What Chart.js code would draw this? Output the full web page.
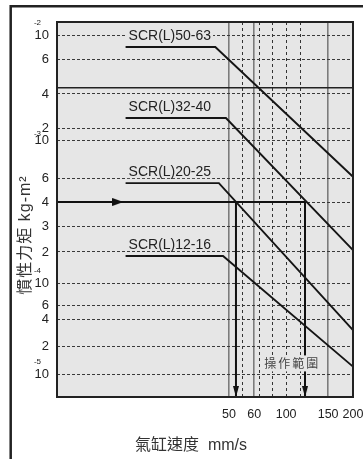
<!DOCTYPE html>
<html>
<head>
<meta charset="utf-8">
<script src="https://cdn.jsdelivr.net/npm/chart.js@4.4.1/dist/chart.umd.min.js"></script>
<style>
  html, body { margin: 0; padding: 0; background: #fff; }
  canvas { display: block; }
</style>
</head>
<body>
<canvas id="grafico" width="363" height="459"></canvas>
<script>
// 系列（氣缸口徑）
var series = ['SCR(L)50-63', 'SCR(L)32-40', 'SCR(L)20-25', 'SCR(L)12-16'];
// 速度 mm/s：起點、轉折、終點
var speedStart = [19, 19, 19, 19];
var speedKnee = [44, 48.6, 45.5, 47.3];
var speedEnd = [200, 200, 200, 200];
// 慣性力矩 kg-m²：水平段、200 mm/s 時
var inertiaFlat = [7.75e-3, 2.45e-3, 5.5e-4, 1.83e-4];
var inertiaEnd = [6.1e-4, 2.06e-4, 3.0e-5, 1.2e-5];

// 例：4×10^-4 kg-m² → 操作範圍
var exampleInertia = 4e-4;
var exampleFrom = 10;
var exampleArrowAt = 18.6;
var exampleRange = [52.6, 120];
var rangeLabelAt = [105, 1.3e-5];
var dividerInertia = 4.3e-3;

// 刻度
var yTicks = [1e-2, 6e-3, 4e-3, 2e-3, 1e-3, 6e-4, 4e-4, 3e-4, 2e-4, 1e-4, 6e-5, 4e-5, 2e-5, 1e-5];
var xLabels = [50, 60, 100, 150, 200];
var xGridSolid = [50, 60, 150];
var xGridDashed = [55, 65, 80, 115];

// O gráfico original é desenhado à mão: cada eixo tem uma escala irregular
// (valor -> fração da área do gráfico, interpolação logarítmica entre os pontos)
var eixos = {
  x: {
    values: [10, 50, 60, 100, 150, 200],
    spots: [0, 0.581, 0.666, 0.774, 0.916, 1],
    ticks: xLabels.concat(xGridDashed).sort(function (a, b) { return a - b; })
  },
  y: {
    values: [7e-6, 1e-5, 2e-5, 4e-5, 6e-5, 1e-4, 2e-4, 3e-4, 4e-4, 6e-4, 1e-3, 2e-3, 4e-3, 6e-3, 1e-2, 1.3e-2],
    spots: [0, 0.0613, 0.136, 0.208, 0.2453, 0.304, 0.3867, 0.456, 0.52, 0.584, 0.6853, 0.7173, 0.808, 0.9013, 0.9653, 1],
    ticks: yTicks
  }
};

class EscalaDesenhada extends Chart.LinearScale {
  determineDataLimits() {
    var e = eixos[this.id];
    this.min = e.values[0];
    this.max = e.values[e.values.length - 1];
  }
  buildTicks() {
    return eixos[this.id].ticks.map(function (v) { return { value: v }; });
  }
  toDecimal(v) {
    var e = eixos[this.id], vs = e.values, sp = e.spots;
    var i = 0;
    while (i < vs.length - 2 && v > vs[i + 1]) i++;
    var t = Math.log(v / vs[i]) / Math.log(vs[i + 1] / vs[i]);
    return sp[i] + t * (sp[i + 1] - sp[i]);
  }
  getPixelForValue(v) {
    if (v === null || v === undefined || !(v > 0)) return NaN;
    return this.getPixelForDecimal(this.toDecimal(v));
  }
  getValueForPixel(p) {
    var e = eixos[this.id], d = this.getDecimalForPixel(p);
    var i = 0;
    while (i < e.spots.length - 2 && d > e.spots[i + 1]) i++;
    var t = (d - e.spots[i]) / (e.spots[i + 1] - e.spots[i]);
    return e.values[i] * Math.pow(e.values[i + 1] / e.values[i], t);
  }
}
EscalaDesenhada.id = 'desenhada';
Chart.register(EscalaDesenhada);

// pontas de seta (a ponta fica no centro da imagem)
function pontaSeta(comp, larg, dir) {
  var cv = document.createElement('canvas');
  if (dir === 'down') { cv.width = larg; cv.height = comp * 2; } else { cv.width = comp * 2; cv.height = larg; }
  var g = cv.getContext('2d');
  g.fillStyle = '#111';
  g.beginPath();
  if (dir === 'down') { g.moveTo(0, 0); g.lineTo(larg, 0); g.lineTo(larg / 2, comp); }
  else { g.moveTo(0, 0); g.lineTo(0, larg); g.lineTo(comp, larg / 2); }
  g.closePath();
  g.fill();
  return cv;
}
var setaDireita = pontaSeta(11, 8, 'right');
var setaBaixo = pontaSeta(11, 6, 'down');

var FUNDO = '#e6e6e6';
var yMin = eixos.y.values[0];
var xMin = eixos.x.values[0];
var xMax = eixos.x.values[eixos.x.values.length - 1];

var datasets = [];
series.forEach(function (nome, i) {
  datasets.push({
    label: nome,
    data: [
      { x: speedStart[i], y: inertiaFlat[i] },
      { x: speedKnee[i], y: inertiaFlat[i] },
      { x: speedEnd[i], y: inertiaEnd[i] }
    ],
    borderColor: '#151515',
    borderWidth: 1.9,
    pointRadius: 0
  });
});
// linha divisória contínua
datasets.push({
  label: 'divisor',
  data: [{ x: xMin, y: dividerInertia }, { x: xMax, y: dividerInertia }],
  borderColor: '#222',
  borderWidth: 1.3,
  pointRadius: 0
});
// exemplo: seta horizontal
datasets.push({
  label: 'exemplo',
  data: [
    { x: exampleFrom, y: exampleInertia },
    { x: exampleArrowAt, y: exampleInertia },
    { x: exampleRange[1], y: exampleInertia }
  ],
  borderColor: '#111',
  borderWidth: 2,
  pointRadius: [0, 4, 0],
  pointStyle: function (ctx) { return ctx.dataIndex === 1 ? setaDireita : 'circle'; }
});
// exemplo: setas verticais até o eixo
exampleRange.forEach(function (v) {
  datasets.push({
    label: 'faixa ' + v,
    data: [{ x: v, y: exampleInertia }, { x: v, y: yMin }],
    borderColor: '#111',
    borderWidth: 2,
    pointRadius: [0, 4],
    pointStyle: function (ctx) { return ctx.dataIndex === 1 ? setaBaixo : 'circle'; }
  });
});

var extras = {
  id: 'extras',
  beforeDraw: function (chart) {
    var c = chart.ctx, a = chart.chartArea;
    c.save();
    c.fillStyle = '#fff';
    c.fillRect(0, 0, chart.width, chart.height);
    c.fillStyle = FUNDO;
    c.fillRect(a.left, a.top, a.right - a.left, a.bottom - a.top);
    c.restore();
  },
  afterDatasetsDraw: function (chart) {
    var c = chart.ctx, a = chart.chartArea, x = chart.scales.x, y = chart.scales.y;
    c.save();
    // nomes das curvas
    c.font = '14px "Liberation Sans", Arial, sans-serif';
    c.textBaseline = 'middle';
    c.textAlign = 'left';
    series.forEach(function (nome, i) {
      var px = x.getPixelForValue(speedStart[i]) + 3;
      var py = y.getPixelForValue(inertiaFlat[i]) - 11;
      var w = c.measureText(nome).width;
      c.fillStyle = FUNDO;
      c.fillRect(px - 2, py - 6, w + 4, 12);
      c.fillStyle = '#222';
      c.fillText(nome, px, py);
    });
    // 操作範圍
    c.font = '12px "Noto Sans CJK TC", sans-serif';
    c.letterSpacing = '2px';
    c.textAlign = 'center';
    var tx = x.getPixelForValue(rangeLabelAt[0]), ty = y.getPixelForValue(rangeLabelAt[1]);
    var tw = c.measureText('操作範圍').width;
    c.fillStyle = FUNDO;
    c.fillRect(tx - tw / 2 - 2, ty - 8, tw + 4, 16);
    c.fillStyle = '#444';
    c.fillText('操作範圍', tx + 1, ty);
    c.letterSpacing = '0px';
    // moldura da área
    c.strokeStyle = '#222';
    c.lineWidth = 2;
    c.strokeRect(a.left, a.top, a.right - a.left, a.bottom - a.top);
    c.restore();
  },
  afterDraw: function (chart) {
    var c = chart.ctx, a = chart.chartArea, y = chart.scales.y;
    c.save();
    // expoentes dos "10" (sobem menos quando o rótulo de cima está perto)
    c.font = '8px "Liberation Sans", Arial, sans-serif';
    c.fillStyle = '#222';
    c.textAlign = 'right';
    c.textBaseline = 'middle';
    y.ticks.forEach(function (t, i) {
      var p = Math.round(Math.log10(t.value));
      if (Math.abs(Math.pow(10, p) - t.value) / t.value < 1e-6) {
        var py = y.getPixelForValue(t.value);
        var gap = i > 0 ? py - y.getPixelForValue(y.ticks[i - 1].value) : 30;
        c.fillText(String(p), a.left - 16, py - Math.min(12, gap * 0.5));
      }
    });
    // títulos
    c.font = '16px "Liberation Sans", "Noto Sans CJK TC", sans-serif';
    c.fillStyle = '#333';
    c.textAlign = 'left';
    c.fillText('氣缸速度  mm/s', 135, 446);
    c.save();
    c.translate(26, 235);
    c.rotate(-Math.PI / 2);
    c.textAlign = 'center';
    c.letterSpacing = '1px';
    c.fillText('慣性力矩 kg-m²', 0, 0);
    c.restore();
    // moldura externa
    c.strokeStyle = '#222';
    c.lineWidth = 2.5;
    c.beginPath();
    c.moveTo(10.7, chart.height + 5);
    c.lineTo(10.7, 6.2);
    c.lineTo(chart.width + 5, 6.2);
    c.stroke();
    c.restore();
  }
};

function tiraPadding(s) {
  s.paddingLeft = 0; s.paddingRight = 0; s.paddingTop = 0; s.paddingBottom = 0;
}

new Chart(document.getElementById('grafico').getContext('2d'), {
  type: 'line',
  data: { datasets: datasets },
  options: {
    responsive: false,
    animation: false,
    devicePixelRatio: 1,
    events: [],
    layout: { padding: { left: 0, top: 22, right: 10, bottom: 0 } },
    elements: { line: { tension: 0 } },
    plugins: { legend: { display: false }, tooltip: { enabled: false } },
    scales: {
      x: {
        type: 'desenhada',
        position: 'bottom',
        afterFit: function (s) { s.height = 62; tiraPadding(s); },
        border: {
          display: false,
          dash: function (ctx) { return ctx.tick && xGridSolid.indexOf(ctx.tick.value) >= 0 ? [] : [3, 3]; }
        },
        grid: {
          drawTicks: false,
          color: function (ctx) { return ctx.tick && xGridSolid.indexOf(ctx.tick.value) >= 0 ? '#7c7c7c' : '#333'; },
          lineWidth: function (ctx) { return ctx.tick && xGridSolid.indexOf(ctx.tick.value) >= 0 ? 1.6 : 1; }
        },
        ticks: {
          autoSkip: false,
          maxRotation: 0,
          padding: 10,
          color: '#222',
          font: { size: 12.5, family: '"Liberation Sans", Arial, sans-serif' },
          callback: function (v) { return xLabels.indexOf(v) >= 0 ? String(v) : ''; }
        }
      },
      y: {
        type: 'desenhada',
        position: 'left',
        afterFit: function (s) { s.width = 57; tiraPadding(s); },
        border: { display: false, dash: [3, 2] },
        grid: { drawTicks: false, color: '#3a3a3a', lineWidth: 1 },
        ticks: {
          autoSkip: false,
          padding: 8,
          color: '#222',
          font: { size: 13, family: '"Liberation Sans", Arial, sans-serif' },
          callback: function (v) {
            var p = Math.floor(Math.log10(v) + 1e-9);
            var m = Math.round(v / Math.pow(10, p));
            return m === 1 ? '10' : String(m);
          }
        }
      }
    }
  },
  plugins: [extras]
});
</script>
</body>
</html>
